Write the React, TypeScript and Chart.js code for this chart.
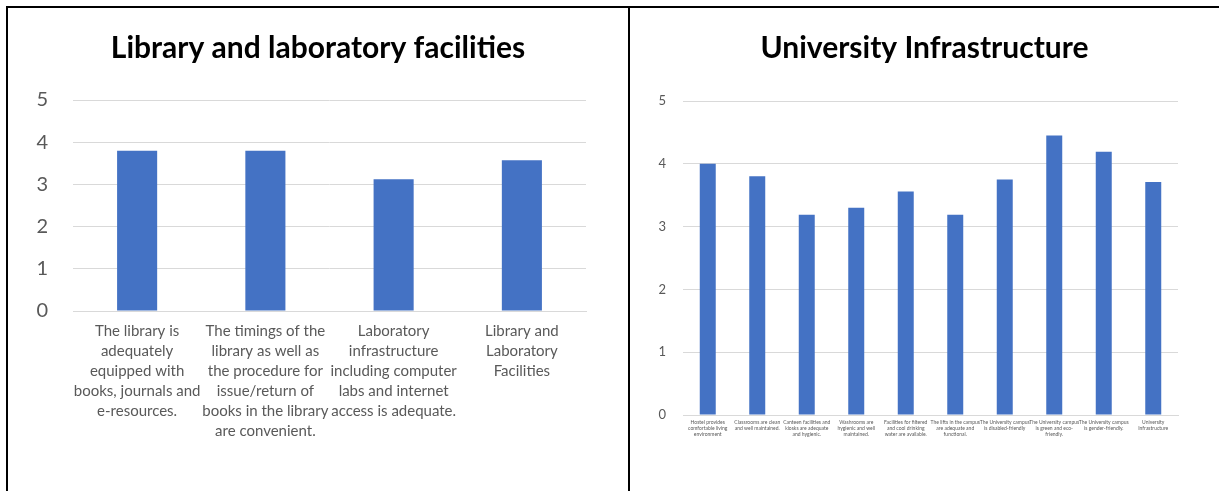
import React, { useEffect, useRef } from "react";
import { Chart, registerables } from "chart.js";

Chart.register(...registerables);

const leftTitle = "Library and laboratory facilities";
const leftCategories: string[][] = [
  ["The library is", "adequately", "equipped with", "books, journals and", "e-resources."],
  ["The timings of the", "library as well as", "the procedure for", "issue/return of", "books in the library", "are convenient."],
  ["Laboratory", "infrastructure", "including computer", "labs and internet", "access is adequate."],
  ["Library and", "Laboratory", "Facilities"],
];
const leftValues = [3.8, 3.8, 3.12, 3.57];

const rightTitle = "University Infrastructure";
const rightCategories: string[][] = [
  ["Hostel provides", "comfortable living", "environment"],
  ["Classrooms are clean", "and well maintained."],
  ["Canteen facilities and", "kiosks are adequate", "and hygienic."],
  ["Washrooms are", "hygienic and well", "maintained."],
  ["Facilities for filtered", "and cool drinking", "water are available."],
  ["The lifts in the campus", "are adequate and", "functional."],
  ["The University campus", "is disabled-friendly"],
  ["The University campus", "is green and eco-", "friendly."],
  ["The University campus", "is gender-friendly."],
  ["University", "Infrastructure"],
];
const rightValues = [4.0, 3.8, 3.19, 3.3, 3.56, 3.19, 3.75, 4.45, 4.19, 3.71];

const yTicks = [0, 1, 2, 3, 4, 5];

const FONT = "Lato, 'Open Sans', sans-serif";
const BAR = "#4472C4";
const GRID = "#D9D9D9";
const TEXT = "#595959";

type Cfg = {
  title: string;
  labels: string[][];
  values: number[];
  width: number;
  height: number;
  titleSize: number;
  titleY: number;
  padTop: number;
  yFont: number;
  yPad: number;
  yWidth: number;
  xFont: number;
  xLine: number;
  xPad: number;
  xHeight: number;
  padRight: number;
  barPct: number;
};

function BarChart({ cfg }: { cfg: Cfg }) {
  const ref = useRef<HTMLCanvasElement | null>(null);
  useEffect(() => {
    if (!ref.current) return;
    const titlePlugin = {
      id: "centeredTitle",
      afterDraw(chart: any) {
        const ctx = chart.ctx;
        ctx.save();
        ctx.font = `bold ${cfg.titleSize}px ${FONT}`;
        ctx.fillStyle = "#000000";
        ctx.textAlign = "center";
        ctx.textBaseline = "middle";
        ctx.fillText(cfg.title, chart.width / 2, cfg.titleY);
        ctx.restore();
      },
    };
    const chart = new Chart(ref.current, {
      type: "bar",
      data: {
        labels: cfg.labels,
        datasets: [
          {
            data: cfg.values,
            backgroundColor: BAR,
            borderWidth: 0,
            barPercentage: cfg.barPct,
            categoryPercentage: 1,
          },
        ],
      },
      plugins: [titlePlugin],
      options: {
        responsive: false,
        animation: false,
        devicePixelRatio: 1,
        layout: { padding: { left: 0, right: cfg.padRight, top: cfg.padTop, bottom: 0 } },
        plugins: {
          legend: { display: false },
          tooltip: { enabled: false },
          title: { display: false },
        },
        scales: {
          x: {
            grid: { display: false, drawTicks: false },
            border: { display: true, color: GRID, width: 1 },
            ticks: {
              color: TEXT,
              autoSkip: false,
              maxRotation: 0,
              minRotation: 0,
              padding: cfg.xPad,
              font: { family: FONT, size: cfg.xFont, lineHeight: cfg.xLine / cfg.xFont },
            },
            afterFit: (s: any) => {
              s.height = cfg.xHeight;
            },
          },
          y: {
            min: 0,
            max: 5,
            afterBuildTicks: (s: any) => {
              s.ticks = yTicks.map((v) => ({ value: v }));
            },
            grid: { color: GRID, drawTicks: false, lineWidth: 1 },
            border: { display: false },
            ticks: {
              color: TEXT,
              padding: cfg.yPad,
              font: { family: FONT, size: cfg.yFont },
            },
            afterFit: (s: any) => {
              s.width = cfg.yWidth;
            },
          },
        },
      },
    });
    return () => chart.destroy();
  }, [cfg]);
  return <canvas ref={ref} width={cfg.width} height={cfg.height} style={{ display: "block" }} />;
}

const leftCfg: Cfg = {
  title: leftTitle,
  labels: leftCategories,
  values: leftValues,
  width: 620,
  height: 483,
  titleSize: 30,
  titleY: 40,
  padTop: 92,
  yFont: 20,
  yPad: 25,
  yWidth: 65,
  xFont: 15,
  xLine: 20,
  xPad: 10,
  xHeight: 180,
  padRight: 42,
  barPct: 0.3125,
};

const rightCfg: Cfg = {
  title: rightTitle,
  labels: rightCategories,
  values: rightValues,
  width: 589,
  height: 483,
  titleSize: 30,
  titleY: 40,
  padTop: 93,
  yFont: 13,
  yPad: 17,
  yWidth: 53,
  xFont: 5,
  xLine: 6,
  xPad: 4,
  xHeight: 76,
  padRight: 41,
  barPct: 0.323,
};

export default function App() {
  return (
    <div style={{ position: "fixed", left: 0, top: 0, width: 1219, height: 491, background: "#fff", overflow: "hidden" }}>
      <div style={{ position: "absolute", left: 8, top: 8 }}>
        <BarChart cfg={leftCfg} />
      </div>
      <div style={{ position: "absolute", left: 630, top: 8 }}>
        <BarChart cfg={rightCfg} />
      </div>
      <div style={{ position: "absolute", left: 6, top: 6, width: 1213, height: 1.5, background: "#000" }} />
      <div style={{ position: "absolute", left: 6, top: 6, width: 2, height: 485, background: "#000" }} />
      <div style={{ position: "absolute", left: 628, top: 6, width: 2, height: 485, background: "#000" }} />
    </div>
  );
}
